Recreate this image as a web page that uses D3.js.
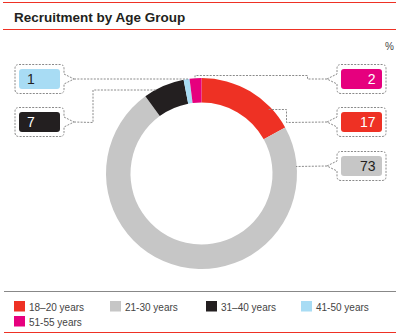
<!DOCTYPE html>
<html>
<head>
<meta charset="utf-8">
<script src="https://cdn.jsdelivr.net/npm/d3@7"></script>
<style>
  body { margin: 0; background: #fff; }
  text { font-family: "Liberation Sans", Arial, sans-serif; }
</style>
</head>
<body>
<div id="chart"></div>
<script>
// data
const categories = ["18–20 years", "21-30 years", "31–40 years", "41-50 years", "51-55 years"];
const values = [17, 73, 7, 1, 2];
const colors = ["#ee3124", "#c6c6c6", "#231f20", "#a8dcf4", "#e6007e"];
const textColors = ["#fff", "#231f20", "#fff", "#231f20", "#fff"];

const width = 400, height = 335;
const cx = 201.5, cy = 173.5, outerR = 95.5, innerR = 71;

const svg = d3.select('#chart')
  .append('svg')
  .attr('width', width)
  .attr('height', height);

// frame lines
svg.append('line').attr('x1', 3).attr('x2', 396).attr('y1', 2.5).attr('y2', 2.5)
  .attr('stroke', '#ee3124').attr('stroke-width', 1.2);
svg.append('line').attr('x1', 3).attr('x2', 396).attr('y1', 29.5).attr('y2', 29.5)
  .attr('stroke', '#ee3124').attr('stroke-width', 1.2);
svg.append('line').attr('x1', 4).attr('x2', 396).attr('y1', 291.5).attr('y2', 291.5)
  .attr('stroke', '#888').attr('stroke-width', 1);
svg.append('line').attr('x1', 4).attr('x2', 396).attr('y1', 332.5).attr('y2', 332.5)
  .attr('stroke', '#ee3124').attr('stroke-width', 1.2);

// title
svg.append('text')
  .attr('x', 14).attr('y', 21.5)
  .style('font-size', '13.5px').style('font-weight', 'bold')
  .attr('fill', '#231f20')
  .text('Recruitment by Age Group');

svg.append('text')
  .attr('x', 394).attr('y', 50)
  .attr('text-anchor', 'end')
  .style('font-size', '10px').attr('fill', '#444')
  .text('%');

// donut
const pie = d3.pie().sort(null).value(d => d)(values);
const arc = d3.arc().innerRadius(innerR).outerRadius(outerR);

const g = svg.append('g').attr('transform', `translate(${cx},${cy})`);
g.selectAll('path')
  .data(pie)
  .join('path')
  .attr('d', arc)
  .attr('fill', (d, i) => colors[i]);

// callouts: side of box, box top, route points between pointer tip and ring
const callouts = [
  { i: 3, side: 'left',  top: 64.5,  route: [[188, 79]] },
  { i: 2, side: 'left',  top: 107.5, route: [[93, 122.5], [93, 90], [157, 90]] },
  { i: 4, side: 'right', top: 64.5,  route: [[307.5, 79], [307.5, 75.5], [195, 75.5], [195, 79]] },
  { i: 0, side: 'right', top: 107.5, route: [[286.5, 122.5], [286.5, 109.5], [268, 109.5]] },
  { i: 1, side: 'right', top: 151.5, route: [[296, 166.5]] }
];

const boxW = 49, boxH = 29, tipLen = 10, notch = 5;

callouts.forEach(c => {
  const x0 = c.side === 'left' ? 15 : 337;
  const x1 = x0 + boxW;
  const y0 = c.top, y1 = c.top + boxH, ym = (y0 + y1) / 2;
  const r = 4;
  let p;
  if (c.side === 'left') {
    const tip = x1 + tipLen;
    p = `M${x0 + r},${y0} H${x1 - r} Q${x1},${y0} ${x1},${y0 + r} V${ym - notch} L${tip},${ym} L${x1},${ym + notch} V${y1 - r} Q${x1},${y1} ${x1 - r},${y1} H${x0 + r} Q${x0},${y1} ${x0},${y1 - r} V${y0 + r} Q${x0},${y0} ${x0 + r},${y0} Z`;
    c.tip = [tip, ym];
  } else {
    const tip = x0 - tipLen;
    p = `M${x0 + r},${y0} H${x1 - r} Q${x1},${y0} ${x1},${y0 + r} V${y1 - r} Q${x1},${y1} ${x1 - r},${y1} H${x0 + r} Q${x0},${y1} ${x0},${y1 - r} V${ym + notch} L${tip},${ym} L${x0},${ym - notch} V${y0 + r} Q${x0},${y0} ${x0 + r},${y0} Z`;
    c.tip = [tip, ym];
  }
  svg.append('path')
    .attr('d', p)
    .attr('fill', '#fff')
    .attr('stroke', '#8a8a8a')
    .attr('stroke-width', 1)
    .attr('stroke-dasharray', '2,1.3');

  // leader line
  svg.append('path')
    .datum([c.tip].concat(c.route))
    .attr('d', d3.line())
    .attr('fill', 'none')
    .attr('stroke', '#8a8a8a')
    .attr('stroke-width', 1)
    .attr('stroke-dasharray', '2,1.3');

  // filled value box
  svg.append('rect')
    .attr('x', x0 + 4).attr('y', y0 + 4.5)
    .attr('width', boxW - 8).attr('height', boxH - 9)
    .attr('rx', 3)
    .attr('fill', colors[c.i]);

  svg.append('text')
    .attr('x', c.side === 'left' ? x0 + 12 : x1 - 10.5)
    .attr('y', ym + 5)
    .attr('text-anchor', c.side === 'left' ? 'start' : 'end')
    .style('font-size', '14px')
    .attr('fill', textColors[c.i])
    .text(values[c.i]);
});

// legend
const legX = [14, 110, 206, 301];
const legend = svg.selectAll('g.leg')
  .data(categories)
  .join('g')
  .attr('class', 'leg')
  .attr('transform', (d, i) => `translate(${legX[i % 4]},${301 + Math.floor(i / 4) * 15})`);

legend.append('rect')
  .attr('width', 11).attr('height', 10.5)
  .attr('fill', (d, i) => colors[i]);

legend.append('text')
  .attr('x', 15).attr('y', 9.5)
  .style('font-size', '10px')
  .attr('fill', '#444')
  .text(d => d);
</script>
</body>
</html>
